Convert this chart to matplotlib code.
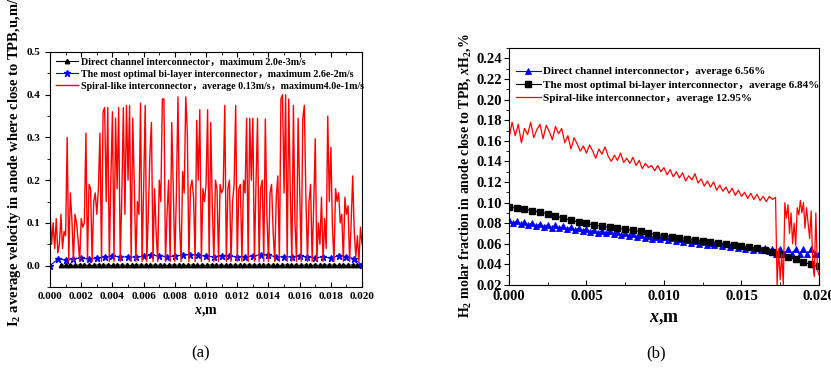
import numpy as np
import matplotlib
matplotlib.use('Agg')
import matplotlib.pyplot as plt
from matplotlib.ticker import MultipleLocator, FormatStrFormatter

plt.rcParams['font.family'] = ['Liberation Serif', 'Noto Sans CJK SC']
plt.rcParams['font.weight'] = 'bold'
plt.rcParams['axes.labelweight'] = 'bold'
plt.rcParams['mathtext.fontset'] = 'custom'
plt.rcParams['mathtext.rm'] = 'Liberation Serif:bold'
plt.rcParams['mathtext.it'] = 'Liberation Serif:italic:bold'
plt.rcParams['mathtext.bf'] = 'Liberation Serif:bold'

# ---- (a) velocity close to TPB ----
vel_spiral = [
    0.13, 0.05, 0.10, 0.04, 0.11, 0.03, 0.05, 0.12, 0.04, 0.08,
    0.07, 0.30, 0.01, 0.17, 0.11, 0.01, 0.12, 0.10, 0.06, 0.01,
    0.11, 0.09, 0.10, 0.31, 0.01, 0.19, 0.18, 0.01, 0.15, 0.17,
    0.12, 0.18, 0.31, 0.01, 0.36, 0.37, 0.15, 0.37, 0.01, 0.20,
    0.36, 0.01, 0.345, 0.18, 0.37, 0.01, 0.16, 0.37, 0.12, 0.375,
    0.20, 0.375, 0.01, 0.345, 0.19, 0.01, 0.15, 0.12, 0.38, 0.01,
    0.18, 0.375, 0.01, 0.12, 0.26, 0.335, 0.01, 0.18, 0.08, 0.01,
    0.20, 0.15, 0.39, 0.39, 0.01, 0.12, 0.20, 0.01, 0.335, 0.18,
    0.01, 0.17, 0.395, 0.10, 0.01, 0.22, 0.17, 0.395, 0.31, 0.01,
    0.18, 0.20, 0.16, 0.01, 0.34, 0.20, 0.365, 0.01, 0.18, 0.15,
    0.19, 0.365, 0.01, 0.335, 0.14, 0.01, 0.20, 0.18, 0.01, 0.19,
    0.17, 0.18, 0.375, 0.01, 0.18, 0.20, 0.01, 0.15, 0.19, 0.375,
    0.01, 0.18, 0.19, 0.01, 0.20, 0.17, 0.345, 0.01, 0.345, 0.20,
    0.345, 0.01, 0.19, 0.345, 0.01, 0.18, 0.20, 0.01, 0.343, 0.12,
    0.01, 0.17, 0.19, 0.08, 0.01, 0.16, 0.21, 0.01, 0.39, 0.40,
    0.17, 0.40, 0.01, 0.39, 0.17, 0.01, 0.375, 0.10, 0.01, 0.345,
    0.18, 0.01, 0.345, 0.375, 0.16, 0.01, 0.15, 0.19, 0.01, 0.14,
    0.297, 0.01, 0.10, 0.05, 0.16, 0.01, 0.11, 0.04, 0.35, 0.15,
    0.277, 0.09, 0.01, 0.18, 0.15, 0.17, 0.10, 0.12, 0.01, 0.16,
    0.12, 0.14, 0.01, 0.10, 0.21, 0.08, 0.02, 0.07, 0.01, 0.09, 0.05,
]
vel_bilayer = [
    0.000, 0.015, 0.014, 0.016, 0.018, 0.015, 0.017, 0.020, 0.022, 0.021,
    0.020, 0.020, 0.022, 0.024, 0.023, 0.021, 0.022, 0.025, 0.026, 0.024,
    0.022, 0.021, 0.023, 0.022, 0.020, 0.021, 0.022, 0.026, 0.024, 0.021,
    0.020, 0.021, 0.022, 0.020, 0.019, 0.020, 0.018, 0.023, 0.021, 0.016,
    0.001,
]
vel_direct = [
    0.0020, 0.0005, 0.0015, 0.0003, 0.0018, 0.0006, 0.0012, 0.0004, 0.0020, 0.0005,
    0.0016, 0.0003, 0.0019, 0.0007, 0.0013, 0.0004, 0.0020, 0.0006, 0.0015, 0.0003,
    0.0018, 0.0005, 0.0012, 0.0004, 0.0020, 0.0006, 0.0016, 0.0003, 0.0019, 0.0005,
    0.0014, 0.0004, 0.0020, 0.0006, 0.0017, 0.0003, 0.0018, 0.0005, 0.0013, 0.0004,
    0.0020, 0.0006, 0.0015, 0.0003, 0.0019, 0.0005, 0.0012, 0.0004, 0.0020, 0.0006,
    0.0016, 0.0003, 0.0018, 0.0005, 0.0014, 0.0004, 0.0020, 0.0006, 0.0017, 0.0003,
    0.0015, 0.0005, 0.0019, 0.0004, 0.0010,
]

# ---- (b) H2 molar fraction close to TPB ----
xh2_direct = [
    0.0827, 0.0799, 0.0819, 0.0791, 0.0811, 0.0782, 0.0802, 0.0774, 0.0794, 0.0766,
    0.0786, 0.0758, 0.0778, 0.0749, 0.0769, 0.0741, 0.0761, 0.0733, 0.0752, 0.0725,
    0.0745, 0.0716, 0.0736, 0.0708, 0.0728, 0.0700, 0.0720, 0.0692, 0.0712, 0.0683,
    0.0703, 0.0675, 0.0695, 0.0667, 0.0687, 0.0659, 0.0679, 0.0650, 0.0670, 0.0642,
    0.0662, 0.0634, 0.0654, 0.0626, 0.0646, 0.0617, 0.0637, 0.0609, 0.0629, 0.0601,
    0.0621, 0.0593, 0.0612, 0.0584, 0.0604, 0.0576, 0.0596, 0.0568, 0.0588, 0.0560,
    0.0580, 0.0551, 0.0571, 0.0543, 0.0563, 0.0535, 0.0555, 0.0527, 0.0547, 0.0505,
    0.0548, 0.0500, 0.0552, 0.0503, 0.0550, 0.0498, 0.0553, 0.0502, 0.0549, 0.0499,
    0.0505,
]
xh2_bilayer = [
    0.096, 0.095, 0.094, 0.092, 0.091, 0.089, 0.087, 0.085, 0.083, 0.081,
    0.080, 0.078, 0.077, 0.076, 0.075, 0.074, 0.073, 0.072, 0.070, 0.069,
    0.068, 0.067, 0.066, 0.065, 0.064, 0.063, 0.062, 0.061, 0.060, 0.059,
    0.058, 0.057, 0.056, 0.054, 0.052, 0.050, 0.047, 0.045, 0.042, 0.040,
    0.038,
]
xh2_spiral_main = [
    0.162, 0.178, 0.165, 0.176, 0.158, 0.172, 0.166, 0.178, 0.163, 0.171,
    0.176, 0.162, 0.175, 0.169, 0.161, 0.174, 0.167, 0.172, 0.158, 0.165,
    0.152, 0.163, 0.157, 0.150, 0.155, 0.148, 0.156, 0.150, 0.143, 0.152,
    0.147, 0.154, 0.145, 0.140, 0.146, 0.141, 0.148, 0.139, 0.143, 0.138,
    0.144, 0.136, 0.141, 0.133, 0.138, 0.134, 0.136, 0.131, 0.136, 0.130,
    0.134, 0.127, 0.132, 0.125, 0.130, 0.124, 0.129, 0.121, 0.126, 0.122,
    0.128, 0.119, 0.123, 0.116, 0.121, 0.115, 0.120, 0.112, 0.117, 0.111,
    0.115, 0.109, 0.114, 0.107, 0.112, 0.106, 0.110, 0.104, 0.109, 0.103,
    0.108, 0.102, 0.106, 0.101, 0.106, 0.103, 0.105,
]
xh2_spiral_tail = [
    0.020, 0.055, 0.025, 0.050, 0.020, 0.100, 0.085, 0.098, 0.070, 0.090,
    0.060, 0.080, 0.058, 0.095, 0.088, 0.102, 0.090, 0.100, 0.075, 0.095,
    0.080, 0.065, 0.092, 0.040, 0.028, 0.090, 0.035, 0.030,
]

x_vel_spiral = np.linspace(0.0, 0.020, len(vel_spiral))
x_vel_bilayer = np.linspace(0.0, 0.020, len(vel_bilayer))
x_vel_direct = np.linspace(0.0007, 0.020, len(vel_direct))
x_h2_direct = np.linspace(0.0, 0.020, len(xh2_direct))
x_h2_bilayer = np.linspace(0.0, 0.020, len(xh2_bilayer))
x_h2_spiral = np.concatenate([np.linspace(0.0, 0.0172, len(xh2_spiral_main)),
                              np.linspace(0.0173, 0.020, len(xh2_spiral_tail))])
h2_spiral = xh2_spiral_main + xh2_spiral_tail

fig = plt.figure(figsize=(8.31, 3.73), dpi=100)
ax1 = fig.add_axes([0.0602, 0.2306, 0.3755, 0.630])
ax2 = fig.add_axes([0.6125, 0.236, 0.373, 0.635])

# ─── (a) ─────────────────────────────────────────────
ax1.plot(x_vel_direct, vel_direct, color='black', lw=0.8, marker='^', ms=3.2,
         label='Direct channel interconnector，maximum 2.0e-3m/s')
ax1.plot(x_vel_bilayer, vel_bilayer, color='blue', lw=0.8, marker='*', ms=5,
         label='The most optimal bi-layer interconnector，maximum 2.6e-2m/s')
ax1.plot(x_vel_spiral, vel_spiral, color='red', lw=1.0,
         label='Spiral-like interconnector，average 0.13m/s，maximum4.0e-1m/s')
ax1.set_xlim(0, 0.020)
ax1.set_ylim(-0.05, 0.5)
ax1.xaxis.set_major_locator(MultipleLocator(0.002))
ax1.xaxis.set_minor_locator(MultipleLocator(0.001))
ax1.yaxis.set_minor_locator(MultipleLocator(0.05))
ax1.set_yticks([0.0, 0.1, 0.2, 0.3, 0.4, 0.5])
ax1.xaxis.set_major_formatter(FormatStrFormatter('%.3f'))
ax1.yaxis.set_major_formatter(FormatStrFormatter('%.1f'))
ax1.tick_params(axis='x', which='both', direction='in', top=True, labelsize=8)
ax1.tick_params(axis='y', which='both', direction='out', labelsize=8)
ax1.tick_params(which='major', length=3.5)
ax1.tick_params(which='minor', length=2)
ax1.set_xlabel('$x$,m', fontsize=10, labelpad=3)
fig.text(15 / 831, (373 - 327) / 373,
         'I$_2$ average velocity in anode where close to TPB,u,m/s',
         rotation=90, ha='center', va='bottom', fontsize=10.5)
ax1.legend(loc='upper left', frameon=False, fontsize=7.2, handlelength=2.2,
           borderaxespad=0.2, labelspacing=0.3, handletextpad=0.3)

# ─── (b) ─────────────────────────────────────────────
ax2.plot(x_h2_direct, xh2_direct, color='blue', lw=0.8, marker='^', ms=4,
         markeredgewidth=0.6, label='Direct channel interconnector，average 6.56%')
ax2.plot(x_h2_bilayer, xh2_bilayer, color='black', lw=0.8, marker='s', ms=4.5,
         label='The most optimal bi-layer interconnector，average 6.84%')
ax2.plot(x_h2_spiral, h2_spiral, color='red', lw=0.9,
         label='Spiral-like interconnector，average 12.95%')
ax2.set_xlim(0, 0.020)
ax2.set_ylim(0.02, 0.25)
ax2.xaxis.set_major_locator(MultipleLocator(0.005))
ax2.xaxis.set_minor_locator(MultipleLocator(0.0025))
ax2.set_yticks(np.arange(0.02, 0.245, 0.02))
ax2.yaxis.set_minor_locator(MultipleLocator(0.01))
ax2.xaxis.set_major_formatter(FormatStrFormatter('%.3f'))
ax2.yaxis.set_major_formatter(FormatStrFormatter('%.2f'))
ax2.tick_params(axis='x', which='both', direction='in', labelsize=10.5)
ax2.tick_params(axis='y', which='both', direction='out', labelsize=10.5, pad=1.5)
ax2.tick_params(which='major', length=3.5)
ax2.tick_params(which='minor', length=2)
ax2.set_xlabel('$x$,m', fontsize=13, labelpad=5)
fig.text(465 / 831, (373 - 318) / 373,
         'H$_2$ molar fraction in anode close to TPB, $x$H$_2$,%',
         rotation=90, ha='center', va='bottom', fontsize=10)
ax2.legend(loc='upper left', bbox_to_anchor=(0.0, 0.95), frameon=False,
           fontsize=8.0, handlelength=2.3, borderaxespad=0.2,
           labelspacing=0.3, handletextpad=0.2)

fig.text(0.241, 0.043, '(a)', fontsize=12, fontweight='normal', ha='center')
fig.text(0.789, 0.043, '(b)', fontsize=12, fontweight='normal', ha='center')

plt.savefig('out.png', dpi=100)
plt.close()
